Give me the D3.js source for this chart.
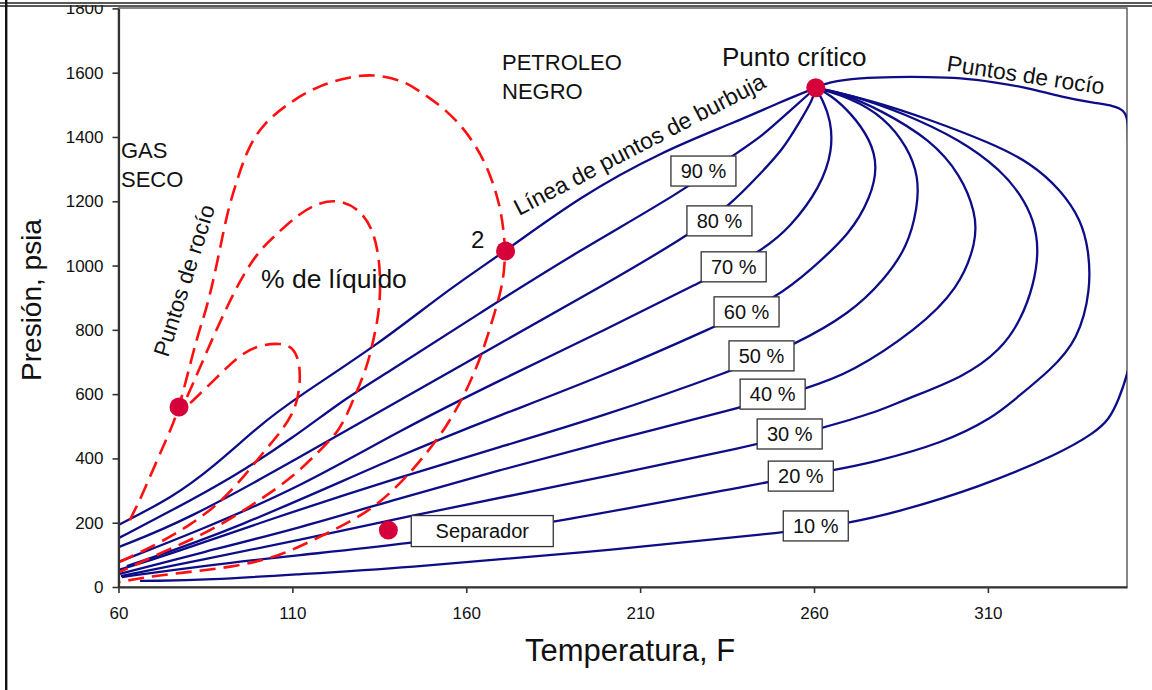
<!DOCTYPE html>
<html><head><meta charset="utf-8">
<script src="https://cdn.jsdelivr.net/npm/d3@7"></script>
<style>
body{margin:0;background:#fff}
svg{display:block}
text{font-family:"Liberation Sans",Arial,Helvetica,sans-serif;fill:#111}
</style>
</head><body>
<svg id="chart" width="1152" height="690"></svg>
<script>
// ---------- DATA ----------
const xTicks = [60, 110, 160, 210, 260, 310];
const yTicks = [0, 200, 400, 600, 800, 1000, 1200, 1400, 1600, 1800];

// Blue quality lines [Temperature F, Pressure psia]
const q100 = [[60,193],[75.7,280],[87.2,373],[100.7,504],[110.2,582],[135.3,759],[154.6,924],[171.3,1045],[192.8,1216],[216.7,1357],[236.9,1444],[250.4,1509],[260.5,1553]];
const q90 = [[60,152],[75.7,240],[93.0,342],[110.2,464],[124.6,582],[135.3,653],[164.0,853],[192.8,1049],[221.6,1226],[239.8,1366],[244.7,1400],[253.3,1484],[260.5,1553]];
const q80 = [[60,124],[79.7,208],[112.2,404],[141.0,582],[169.8,759],[198.6,933],[223.1,1089],[236.0,1188],[244.7,1288],[251.0,1360],[256.2,1453],[259.6,1515],[260.5,1553]];
const q70 = [[60,78],[83.5,177],[112.2,311],[141.0,488],[169.8,644],[198.6,793],[227.4,949],[244.7,1042],[253.3,1120],[261.9,1245],[265.4,1360],[264.8,1453],[262.5,1515],[260.5,1553]];
const q60 = [[62.4,65],[93.0,177],[141.0,411],[169.8,535],[198.6,653],[231.4,809],[249.6,902],[259.0,986],[270.6,1101],[276.3,1213],[278.3,1307],[276.3,1391],[270.6,1475],[264.8,1531],[260.5,1553]];
const q50 = [[60.1,53],[74.2,100],[102.7,208],[141.0,342],[169.8,436],[198.6,529],[235.7,669],[254.4,753],[270.6,853],[280.1,955],[286.9,1058],[289.8,1182],[290.1,1276],[286.9,1369],[280.1,1462],[270.6,1521],[260.5,1553]];
const q40 = [[60.1,40],[83.5,106],[112.2,184],[141.0,277],[169.8,364],[198.6,448],[238.9,557],[258.2,619],[270.6,666],[289.3,799],[301.6,927],[306.8,1076],[306.5,1164],[302.2,1282],[293.6,1391],[279.2,1484],[267.7,1537],[260.5,1553]];
const q30 = [[60.7,34],[83.5,84],[112.2,146],[141.0,215],[185.1,311],[243.8,442],[262.5,495],[278.3,545],[285.8,582],[303.1,653],[313.7,737],[319.5,831],[323.2,940],[324.7,1049],[323.2,1142],[319.5,1220],[313.7,1297],[302.2,1391],[284.9,1478],[270.6,1531],[260.5,1553]];
const q20 = [[61.0,31],[83.5,65],[112.2,100],[141.0,131],[185.1,199],[246.7,327],[265.7,364],[276.3,386],[297.3,448],[311.7,529],[317.5,582],[328.1,675],[335.9,768],[339.6,924],[339.0,1049],[336.8,1142],[331.0,1235],[322.4,1319],[310.9,1381],[293.6,1453],[276.3,1515],[260.5,1553]];
const q10 = [[66.2,19],[69.1,19],[85.5,22],[112.2,40],[141.0,59],[192.8,106],[251.0,168],[270.0,199],[282.9,230],[307.1,308],[331.0,417],[340.5,479],[344.8,520],[347.6,582],[350.3,666],[352,760]];
const dewRight = [[260.5,1553],[263.9,1571],[273.4,1584],[282.9,1587],[292.7,1587],[302.2,1584],[311.7,1571],[321.5,1553],[331.0,1525],[340.5,1506],[346.3,1497],[349.1,1484],[350.3,1453],[350.3,1391]];

// Red dashed curves (gas)
const redDew = [[63.3,208],[64.2,230],[66.2,271],[71.1,395],[75.4,498],[77.4,560],[79.7,653],[82.6,778],[85.5,871],[88.4,1008],[91.2,1164],[94.1,1266],[97.0,1360],[101.6,1444],[110.2,1515],[118.0,1562],[126.6,1587],[133.3,1596],[141.0,1577],[144.8,1556],[154.6,1484],[162.0,1391],[166.9,1288],[169.8,1182],[170.7,1111],[171.3,1045],[170.7,946],[167.8,840],[164.9,737],[161.2,635],[154.6,498],[144.8,364],[135.3,261],[126.6,202],[116.0,146],[105.6,93],[93.0,62],[77.7,44],[68.2,31],[60.4,16]];
const redMid = [[79.7,591],[83.5,684],[87.2,778],[91.2,871],[95.0,955],[99.9,1039],[104.5,1089],[112.2,1164],[118.0,1198],[123.8,1204],[129.5,1173],[133.3,1111],[135.3,1008],[135.3,871],[133.3,768],[131.5,684],[127.5,582],[123.8,488],[118.0,426],[110.2,342],[100.7,271],[87.2,177],[74.0,115],[60.4,47]];
const redInner = [[80.6,572],[85.5,622],[91.2,684],[95.8,728],[100.7,753],[106.5,759],[110.2,747],[112.2,697],[112.2,622],[110.8,551],[107.1,488],[102.2,426],[96.4,348],[89.2,261],[80.6,193],[71.9,137],[60.4,78]];

const blueSeries = [q100, q90, q80, q70, q60, q50, q40, q30, q20, q10, dewRight];
const redSeries = [redDew, redMid, redInner];

// labelled points
const pointNames = ["critico", "dos", "gasSeco", "separador"];
const pointValues = [[260.5,1553],[171.3,1045],[77.4,560],[137.6,177]];

// quality labels with their anchor (T, P)
const qualityLabels = ["90 %","80 %","70 %","60 %","50 %","40 %","30 %","20 %","10 %"];
const qualityAnchors = [[228.2,1294],[232.8,1139],[236.9,996],[240.6,856],[244.9,719],[248.1,600],[253.0,476],[256.2,345],[260.5,190]];
const separadorLabel = "Separador";
const separadorAnchor = [164.6,174];

// ---------- DRAW ----------
const svg = d3.select("#chart");
const W = 1152, H = 690;
const L = 118.5, R = 1127, T = 8.4, B = 587;
const x = d3.scaleLinear().domain([60,350]).range([L,R]);
const y = d3.scaleLinear().domain([0,1800]).range([B,T]);

svg.append("rect").attr("width",W).attr("height",H).attr("fill","#fff");

svg.append("defs").append("clipPath").attr("id","plotclip")
  .append("rect").attr("x",L).attr("y",T).attr("width",R-L).attr("height",B-T);

// plot frame
svg.append("rect").attr("x",L).attr("y",T-0.4).attr("width",R-L).attr("height",B-T+0.4)
  .attr("fill","none").attr("stroke","#555").attr("stroke-width",1.4);

const line = d3.line().x(d=>x(d[0])).y(d=>y(d[1])).curve(d3.curveBasis);

const plot = svg.append("g").attr("clip-path","url(#plotclip)");
plot.selectAll("path.blue").data(blueSeries).enter().append("path")
  .attr("class","blue").attr("d",line).attr("fill","none")
  .attr("stroke","#0d0d88").attr("stroke-width",2.3).attr("stroke-linejoin","round");
plot.selectAll("path.red").data(redSeries).enter().append("path")
  .attr("class","red").attr("d",line).attr("fill","none")
  .attr("stroke","#ff1010").attr("stroke-width",2.6).attr("stroke-dasharray","16,8");

// axes
const yAxis = d3.axisLeft(y).tickValues(yTicks).tickFormat(d3.format("d")).tickSize(6).tickSizeOuter(0).tickPadding(9);
const xAxis = d3.axisBottom(x).tickValues(xTicks).tickFormat(d3.format("d")).tickSize(6).tickSizeOuter(0).tickPadding(14);
const gy = svg.append("g").attr("transform",`translate(${L},0)`).call(yAxis);
const gx = svg.append("g").attr("transform",`translate(0,${B})`).call(xAxis);
[gx,gy].forEach(g=>{
  g.select(".domain").attr("stroke","#333").attr("stroke-width",2.2);
  g.selectAll(".tick line").attr("stroke","#333").attr("stroke-width",1.6);
  g.selectAll(".tick text").attr("font-size",17).attr("fill","#111")
   .attr("font-family","'Liberation Sans',Arial,sans-serif");
});

// points
svg.selectAll("circle.pt").data(pointValues).enter().append("circle")
  .attr("class","pt").attr("cx",d=>x(d[0])).attr("cy",d=>y(d[1])).attr("r",9.5)
  .attr("fill","#d6003a");

// quality label boxes
const qg = svg.selectAll("g.ql").data(qualityLabels).enter().append("g")
  .attr("class","ql")
  .attr("transform",(d,i)=>`translate(${x(qualityAnchors[i][0])},${y(qualityAnchors[i][1])})`);
qg.append("rect").attr("x",-32.5).attr("y",-15).attr("width",65).attr("height",30)
  .attr("fill","#fff").attr("stroke","#333").attr("stroke-width",1.3);
qg.append("text").attr("text-anchor","middle").attr("dy","0.36em").attr("font-size",20).text(d=>d);

const sg = svg.append("g").attr("transform",`translate(${x(separadorAnchor[0])},${y(separadorAnchor[1])})`);
sg.append("rect").attr("x",-71).attr("y",-15.5).attr("width",142).attr("height",31)
  .attr("fill","#fff").attr("stroke","#333").attr("stroke-width",1.3);
sg.append("text").attr("text-anchor","middle").attr("dy","0.36em").attr("font-size",20).text(separadorLabel);

// annotations
function txt(t, tx, ty, size, rot, anchor){
  svg.append("text").attr("transform",`translate(${tx},${ty}) rotate(${rot||0})`)
    .attr("font-size",size).attr("text-anchor",anchor||"start").text(t);
}
txt("GAS",121,158,22);
txt("SECO",121,187,22);
txt("PETROLEO",502,70,22);
txt("NEGRO",502,99,22);
txt("Punto crítico",722,66,26);
txt("Puntos de rocío",946,71,22.7,8.5);
txt("Línea de puntos de burbuja",519,216,23,-27.5);
txt("Puntos de rocío",168,358,22.5,-72.6);
txt("% de líquido",261,288,26.5);
txt("2",471,248,24);
txt("Presión, psia",41,300,28,-90,"middle");
txt("Temperatura, F",630,661,31,0,"middle");

// outer frame
svg.append("rect").attr("x",0).attr("y",0).attr("width",W).attr("height",5).attr("fill","#fff");
svg.append("line").attr("x1",0).attr("x2",W).attr("y1",3).attr("y2",3).attr("stroke","#222").attr("stroke-width",1.5);
svg.append("line").attr("x1",0).attr("x2",W).attr("y1",6).attr("y2",6).attr("stroke","#222").attr("stroke-width",1.5);
svg.append("line").attr("x1",6.2).attr("x2",6.2).attr("y1",0).attr("y2",H).attr("stroke","#111").attr("stroke-width",2.4);
</script>
</body></html>
